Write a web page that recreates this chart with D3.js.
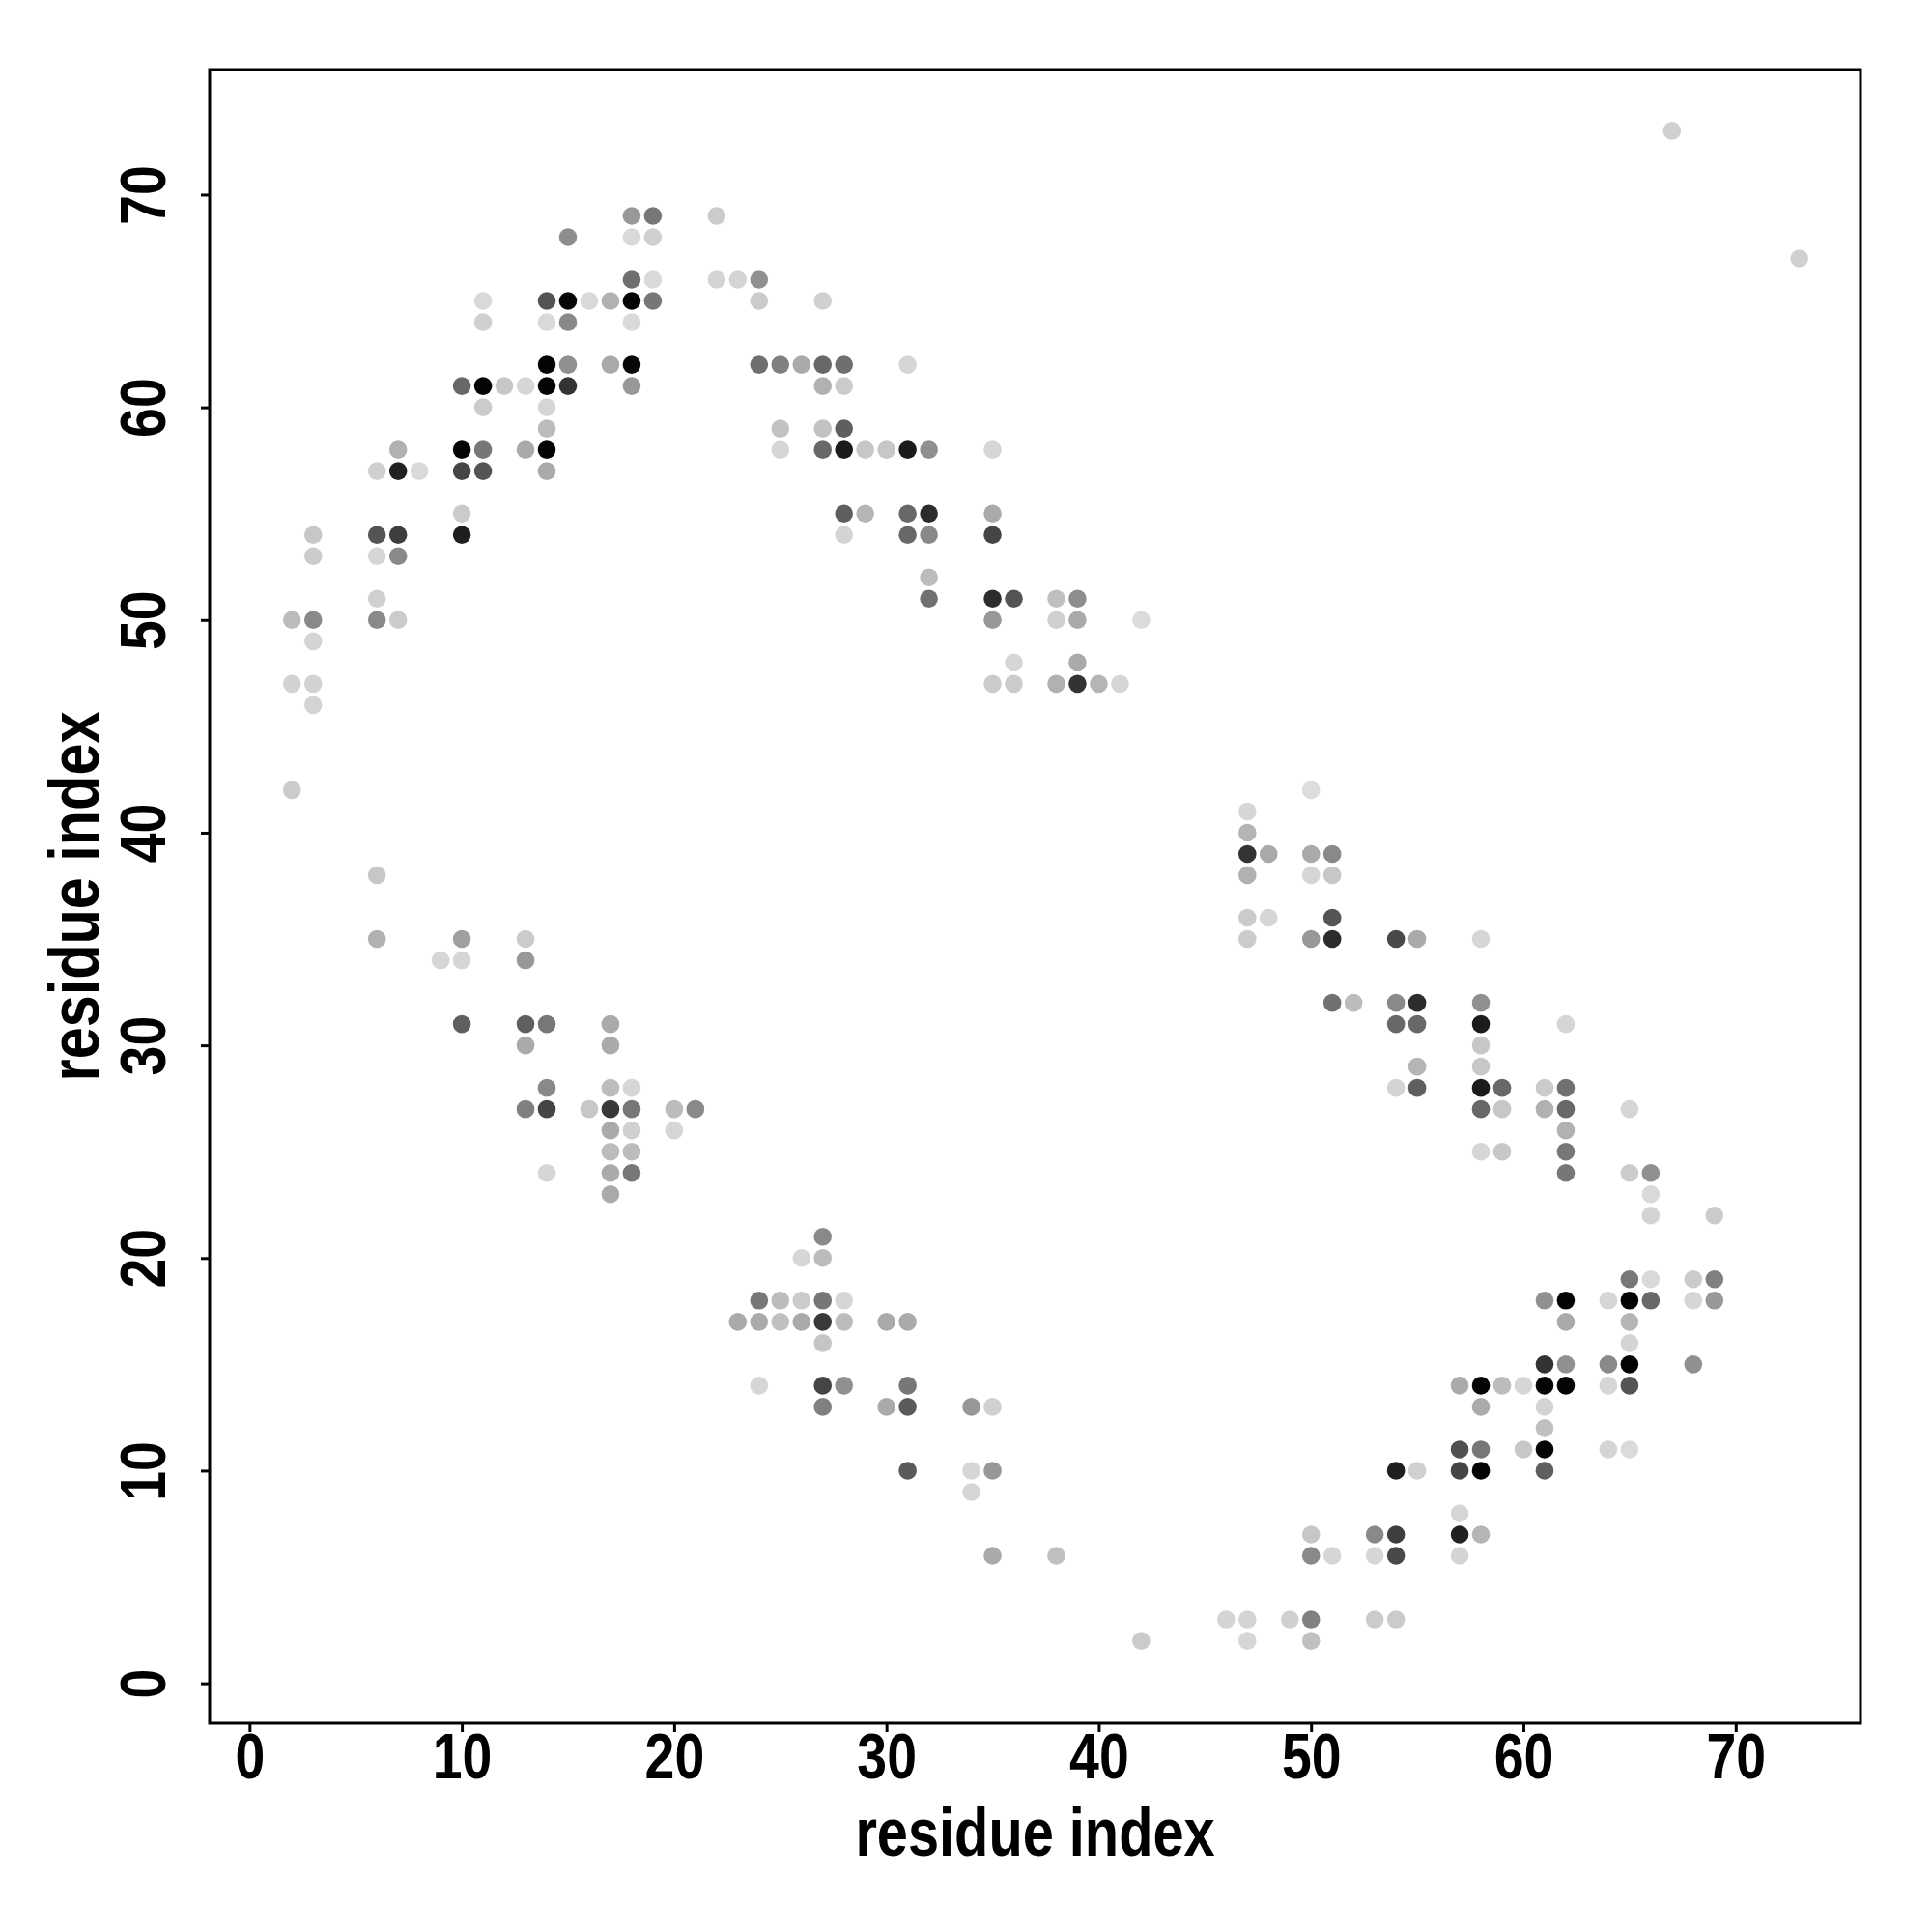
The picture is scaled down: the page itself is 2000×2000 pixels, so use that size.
<!DOCTYPE html>
<html><head><meta charset="utf-8">
<script src="https://cdn.jsdelivr.net/npm/d3@7"></script>
<style>body{margin:0;background:#fff}</style>
</head><body>
<svg id="chart" width="2000" height="2000"></svg>
<script>
// residue i (x), residue j (y), contact score (0 = lightest grey, 1 = black)
const resI = [18,19,22,15,18,19,18,19,22,23,24,11,14,15,16,17,18,19,24,27,11,14,15,18,14,15,17,18,24,25,26,27,28,31,10,11,12,13,14,15,18,27,28,11,14,14,25,27,28,7,10,11,13,14,25,27,28,29,30,31,32,35,6,7,8,10,11,14,10,28,29,31,32,35,3,6,7,10,28,31,32,35,3,6,7,32,6,32,35,36,38,39,2,3,6,7,35,38,39,42,3,36,39,2,3,35,36,38,39,40,41,3,2,50,47,47,47,48,50,51,6,47,50,51,47,48,51,6,10,13,47,50,51,54,55,58,9,10,13,51,52,54,55,58,10,13,14,17,54,55,58,62,13,17,58,55,58,14,17,18,54,55,58,59,61,62,13,14,16,17,18,20,21,58,59,61,62,65,17,18,20,62,17,18,58,59,62,14,17,18,62,65,66,17,66,66,69,27,26,27,65,66,68,69,24,25,26,27,28,61,62,64,65,66,68,69,23,24,25,26,27,28,30,31,62,65,27,65,61,62,64,65,68,24,27,28,31,57,58,59,60,61,62,64,65,27,30,31,34,35,58,61,61,57,58,60,61,64,65,31,34,35,54,55,57,58,61,34,57,50,53,54,57,58,35,38,50,51,53,54,57,46,47,49,50,53,54,42,47,50,67,73];
const resJ = [69,69,69,68,68,68,66,66,66,66,66,65,65,65,65,65,65,65,65,65,64,64,64,64,62,62,62,62,62,62,62,62,62,62,61,61,61,61,61,61,61,61,61,60,60,59,59,59,59,58,58,58,58,58,58,58,58,58,58,58,58,58,57,57,57,57,57,57,55,55,55,55,55,55,54,54,54,54,54,54,54,54,53,53,53,52,51,51,51,51,51,51,50,50,50,50,50,50,50,50,49,48,48,47,47,47,47,47,47,47,47,46,42,42,41,40,39,39,39,39,38,38,38,38,36,36,36,35,35,35,35,35,35,35,35,35,34,34,34,32,32,32,32,32,31,31,31,31,31,31,31,31,30,30,30,29,29,28,28,28,28,28,28,28,28,28,27,27,27,27,27,27,27,27,27,27,27,27,26,26,26,26,25,25,25,25,25,24,24,24,24,24,24,23,23,22,22,21,20,20,19,19,19,19,18,18,18,18,18,18,18,18,18,18,18,18,17,17,17,17,17,17,17,17,17,17,16,16,15,15,15,15,15,14,14,14,14,14,14,14,14,14,14,14,14,13,13,13,13,13,13,13,12,11,11,11,11,11,11,10,10,10,10,10,10,10,10,9,8,7,7,7,7,7,6,6,6,6,6,6,6,3,3,3,3,3,3,2,2,2,73,67];
const score = [0.31,0.46,0.08,0.36,0.02,0.06,0.5,0.02,0.04,0.04,0.35,0.02,0.62,0.97,0.02,0.2,0.98,0.46,0.08,0.06,0.06,0.02,0.38,0.02,0.98,0.35,0.23,0.97,0.5,0.42,0.23,0.53,0.5,0.03,0.53,0.98,0.1,0.03,0.98,0.77,0.31,0.2,0.08,0.08,0.03,0.15,0.12,0.12,0.57,0.2,0.98,0.46,0.23,0.98,0.03,0.53,0.88,0.1,0.1,0.88,0.35,0.03,0.06,0.85,0.02,0.69,0.62,0.23,0.08,0.57,0.18,0.53,0.8,0.23,0.1,0.62,0.72,0.86,0.04,0.53,0.38,0.69,0.08,0.03,0.38,0.15,0.06,0.49,0.8,0.62,0.13,0.36,0.15,0.38,0.38,0.08,0.31,0.06,0.23,0.01,0.04,0.03,0.23,0.05,0.05,0.08,0.08,0.2,0.77,0.18,0.03,0.04,0.08,0.0,0.03,0.18,0.77,0.23,0.23,0.38,0.1,0.2,0.03,0.1,0.08,0.03,0.62,0.2,0.28,0.08,0.08,0.31,0.8,0.67,0.23,0.03,0.03,0.03,0.31,0.49,0.15,0.38,0.8,0.35,0.57,0.57,0.46,0.23,0.53,0.53,0.88,0.03,0.23,0.23,0.1,0.18,0.1,0.38,0.15,0.03,0.04,0.57,0.88,0.53,0.08,0.49,0.42,0.69,0.1,0.74,0.46,0.15,0.38,0.53,0.1,0.2,0.53,0.03,0.23,0.06,0.03,0.2,0.15,0.15,0.03,0.1,0.46,0.03,0.23,0.46,0.46,0.08,0.35,0.23,0.02,0.04,0.08,0.38,0.03,0.15,0.46,0.02,0.08,0.42,0.46,0.15,0.08,0.46,0.03,0.35,0.98,0.03,0.98,0.53,0.03,0.31,0.23,0.23,0.13,0.23,0.74,0.15,0.23,0.23,0.23,0.18,0.11,0.04,0.77,0.35,0.38,0.98,0.35,0.03,0.69,0.35,0.46,0.23,0.98,0.15,0.03,0.98,0.98,0.03,0.62,0.42,0.23,0.59,0.31,0.06,0.23,0.04,0.13,0.64,0.46,0.1,0.98,0.04,0.01,0.59,0.03,0.31,0.86,0.06,0.69,0.98,0.57,0.03,0.03,0.1,0.38,0.72,0.85,0.18,0.23,0.13,0.38,0.03,0.03,0.67,0.04,0.04,0.04,0.06,0.42,0.08,0.08,0.08,0.03,0.13,0.06,0.06];
const xTicks = [0,10,20,30,40,50,60,70];
const yTicks = [0,10,20,30,40,50,60,70];
const xTitle = "residue index";
const yTitle = "residue index";

const FONT = "'Liberation Sans',Arial,sans-serif";
const NARROW = 0.84;
const svg = d3.select("#chart");
const L = 217, R = 1926, T = 72, B = 1784;
const x = d3.scaleLinear().domain([-1.88, 75.88]).range([L, R]);
const y = d3.scaleLinear().domain([-1.88, 75.88]).range([B, T]);
const grey = d3.scaleLinear().domain([0, 1]).range(["#dddddd", "#000000"]);

svg.append("rect").attr("width", 2000).attr("height", 2000).attr("fill", "#fff");

const pts = resI.map((d, k) => ({i: d, j: resJ[k], s: score[k]}));
svg.append("g").selectAll("circle").data(pts).join("circle")
  .attr("cx", d => x(d.i)).attr("cy", d => y(d.j)).attr("r", 9.3)
  .attr("fill", d => grey(d.s));

// x axis
const gx = svg.append("g").attr("transform", `translate(0,${B})`)
  .call(d3.axisBottom(x).tickValues(xTicks).tickSize(9).tickFormat(d3.format("d")));
gx.select(".domain").remove();
gx.selectAll("line").attr("stroke", "#000").attr("stroke-width", 3);
gx.selectAll("text").attr("x", 0).attr("y", 57).attr("dy", 0)
  .attr("transform", `scale(${NARROW},1)`)
  .attr("font-family", FONT).attr("font-weight", "bold").attr("font-size", 66).attr("fill", "#000");

// y axis
const gy = svg.append("g").attr("transform", `translate(${L},0)`)
  .call(d3.axisLeft(y).tickValues(yTicks).tickSize(9).tickFormat(d3.format("d")));
gy.select(".domain").remove();
gy.selectAll("line").attr("stroke", "#000").attr("stroke-width", 3);
gy.selectAll("text").attr("transform", `rotate(-90) scale(${NARROW},1)`).attr("x", 0).attr("y", -46).attr("dy", 0)
  .attr("text-anchor", "middle")
  .attr("font-family", FONT).attr("font-weight", "bold").attr("font-size", 66).attr("fill", "#000");

// frame
svg.append("rect").attr("x", L).attr("y", T).attr("width", R - L).attr("height", B - T)
  .attr("fill", "none").attr("stroke", "#000").attr("stroke-width", 3);

// titles
svg.append("text").attr("transform", `translate(${(L + R) / 2},1921) scale(0.825,1)`).attr("text-anchor", "middle")
  .attr("font-family", FONT).attr("font-weight", "bold").attr("font-size", 70).attr("fill", "#000").text(xTitle);
svg.append("text").attr("transform", `translate(102,${(T + B) / 2}) rotate(-90) scale(0.825,1)`).attr("text-anchor", "middle")
  .attr("font-family", FONT).attr("font-weight", "bold").attr("font-size", 72).attr("fill", "#000").text(yTitle);
</script>
</body></html>
